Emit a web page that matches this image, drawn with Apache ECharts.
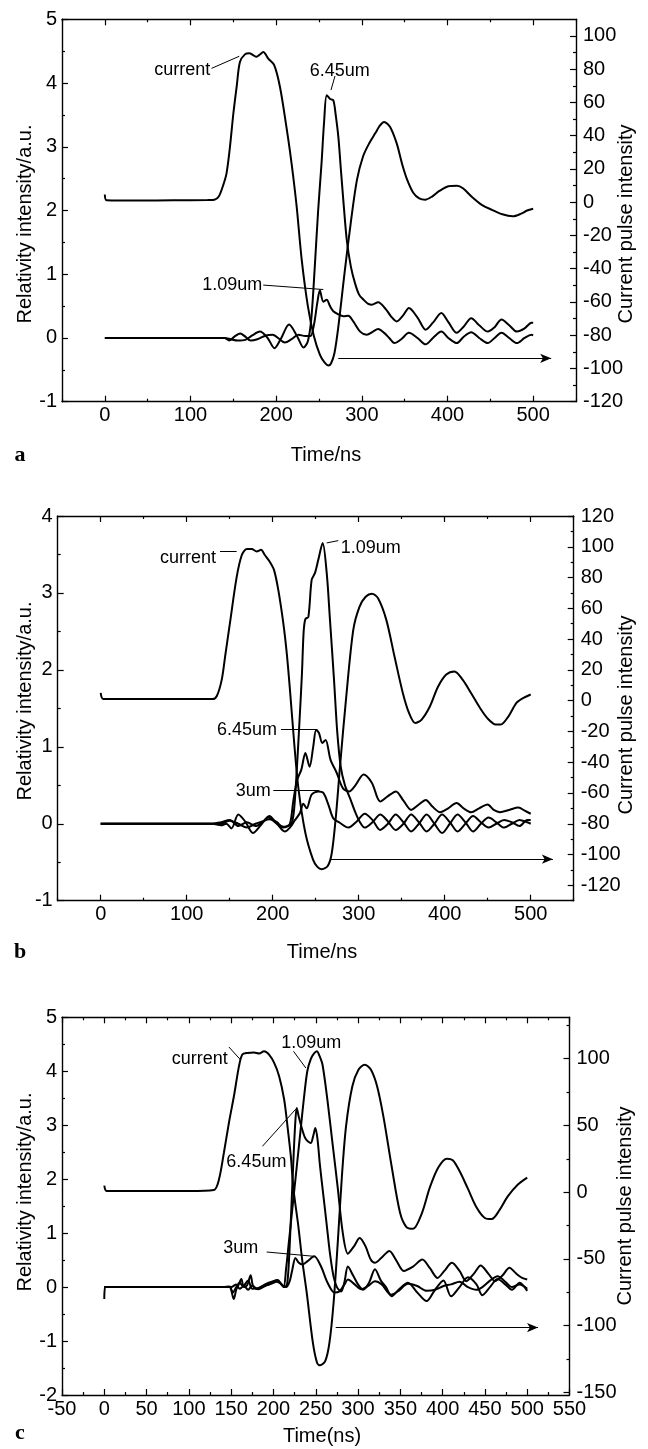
<!DOCTYPE html>
<html><head><meta charset="utf-8">
<script src="https://cdn.jsdelivr.net/npm/echarts@6/dist/echarts.min.js"></script>
<style>html,body{margin:0;padding:0;background:#fff}#c{width:648px;height:1449px}</style>
</head><body><div id="c"></div>
<script>
// ---------------- DATA (time in ns, left axis a.u., right axis current) ----------------
// Panel a
const a_current = [[0,4.6],[2,1.2],[40,1.0],[80,1.2],[120,1.3],[128,1.5],[133,3.4],[138,10],[142,17.2],[146,33],[150,53.2],[154,70],[157.7,84.3],[163.5,88.9],[168.6,89.6],[173,88.5],[177,87.4],[181,88.8],[185,90.4],[191,86.2],[197.7,82.4],[204.4,69.4],[212,45.2],[216,31],[220,15],[224,-3],[229.8,-34.5],[237,-62.5],[244,-80.5],[251,-91.7],[256,-96],[261,-98.2],[264,-97],[268,-90.9],[272.6,-74.8],[279.8,-42.6],[287,-12.7],[294.3,13.4],[301.5,27.6],[308.8,35.6],[316,41.7],[321,46],[326,48.3],[333,45.2],[340.8,35.2],[347,23],[353,13.4],[360,5.7],[367,2.3],[374,1.5],[382,3.4],[391,6.9],[401,9.6],[411,9.9],[418,8.4],[428,3.4],[440,-1.6],[452,-4.6],[464,-7.3],[476,-8.5],[486,-6.9],[493,-5],[500,-3.9]];
const a_645 = [[0,0],[50,0],[100,0],[140,0],[147,-0.02],[155,-0.04],[164,-0.03],[172,0.04],[181,0.1],[190,0.0],[198,-0.16],[206,0.0],[215,0.21],[224,0.04],[232,-0.15],[237,-0.05],[241,0.3],[245,1.1],[249,2.0],[253,2.75],[256,3.4],[259,3.81],[263,3.75],[266.7,3.73],[269.5,3.5],[272.6,3.15],[275.5,2.65],[278.4,2.16],[282.4,1.54],[287.2,1.12],[292,0.86],[296.8,0.68],[302,0.6],[307,0.54],[311.6,0.52],[319,0.56],[328.6,0.44],[334,0.34],[340.7,0.26],[348,0.35],[355,0.47],[365,0.32],[374.5,0.13],[383,0.24],[392.8,0.39],[401,0.25],[410.8,0.08],[419,0.18],[427.7,0.31],[437,0.2],[447,0.1],[455,0.17],[463,0.29],[472,0.2],[481,0.1],[490,0.15],[498,0.24],[500,0.24]];
const a_109 = [[0,0],[50,0],[100,0],[140,0],[145,-0.04],[152,0.03],[158,0.07],[164,0.02],[170,-0.04],[178,-0.02],[188,0.04],[196,0.05],[204,-0.02],[210,-0.07],[218,-0.02],[226,0.05],[234,0.03],[240,0.03],[244,0.2],[248,0.55],[251,0.75],[255,0.57],[259,0.6],[262.8,0.5],[266.7,0.42],[272.6,0.37],[278.4,0.34],[284.2,0.35],[290,0.26],[298,0.1],[305.7,0.05],[313,0.1],[319,0.14],[326,0.08],[332,0.0],[338,-0.08],[346,-0.02],[355,0.08],[365,0.0],[374.5,-0.1],[383,0.0],[392.8,0.1],[401,0.0],[410.8,-0.08],[419,0.02],[427.7,0.09],[437,0.0],[447,-0.08],[455,0.0],[463,0.08],[472,0.0],[481,-0.08],[490,0.0],[498,0.05],[500,0.04]];
// Panel b
const b_current = [[0,5],[3,1],[50,1],[100,1],[130,1],[135,3],[140.7,13.5],[145,30],[150.3,50.5],[158,80],[164,94.5],[169.8,98.5],[175.6,98.5],[181.4,97],[186.4,98],[191,94.5],[196.9,90],[201.5,85],[206.5,72],[212.3,50.5],[216.3,31],[220,7.5],[225,-27.5],[230,-57.5],[238,-86],[247,-103.5],[252,-108],[257,-109.5],[264,-107.5],[268.7,-99],[273.5,-75],[278.3,-42.5],[285.5,2.5],[293.7,46],[300.9,61],[308.1,67.5],[315.4,69.5],[322.5,66.5],[332.1,52.5],[341.7,28.5],[351.3,5],[358.5,-8],[365.7,-14.5],[372.9,-12.5],[382.6,-4],[392.2,9],[401.8,17],[411.4,19],[421,13.5],[430.6,5],[440.2,-4],[449.8,-11.5],[459.4,-15.5],[465.2,-15.5],[473.8,-10.5],[483.4,-1.5],[490.6,1.5],[500,4]];
const b_645 = [[0,0],[50,0],[100,0],[130,0],[140,0.02],[150,0.05],[160,-0.03],[170,0.02],[180,-0.03],[188,0.02],[195,0.08],[205,0.0],[214,-0.04],[220,0.0],[224,0.3],[228.4,0.57],[233.2,0.7],[238,0.92],[242.9,0.74],[247.1,1.0],[250.5,1.22],[253.8,1.18],[257.7,1.05],[261.5,1.09],[267.3,0.83],[274.5,0.66],[281.7,0.46],[288.9,0.42],[296.1,0.5],[305.7,0.64],[315.4,0.53],[325,0.29],[334,0.36],[343.3,0.42],[352,0.3],[361,0.18],[370,0.25],[378,0.31],[386,0.22],[394.6,0.15],[404,0.2],[413.8,0.27],[422,0.2],[430.6,0.15],[440,0.2],[449.8,0.25],[457,0.18],[464.2,0.15],[475,0.18],[485.8,0.21],[493,0.17],[500,0.13]];
const b_109 = [[0,0],[50,0],[100,0],[130,0],[140,0.0],[150,0.04],[160,0.0],[170,-0.05],[180,0.0],[188,0.03],[196,0.06],[205,0.02],[212,-0.05],[218,-0.03],[222,0.0],[225,0.2],[228,0.7],[231,1.3],[234,1.95],[236,2.5],[238,2.66],[241.5,2.69],[245.3,3.17],[249.2,3.26],[253,3.43],[258.1,3.65],[262.8,3.26],[266.6,2.65],[271.3,1.87],[275,1.2],[279,0.75],[284,0.5],[290,0.33],[296,0.15],[301,0.03],[307,-0.05],[316,0.02],[325,0.12],[334,0.03],[343,-0.08],[352,0.0],[361,0.12],[370,0.02],[379,-0.1],[388,0.0],[397,0.12],[406,0.02],[415,-0.1],[424,0.0],[433,0.1],[442,0.02],[451,-0.05],[460,0.0],[469,0.05],[478,0.02],[487,-0.03],[496,0.05],[500,0.05]];
const b_3 = [[0,0],[50,0],[100,0],[130,0],[140,-0.02],[146,0.0],[152,-0.06],[160,0.12],[168,0.03],[177,-0.12],[186,-0.02],[196,0.1],[205,0.0],[214,-0.1],[220,-0.05],[226,0.05],[231.7,0.14],[235.6,0.26],[239.5,0.2],[245.3,0.38],[253,0.42],[258.9,0.4],[264.7,0.25],[270.5,0.07],[278.3,0.01],[288,-0.05],[297.7,0.03],[307,0.13],[316,0.05],[325,-0.08],[334,0.0],[343,0.12],[352,0.02],[361,-0.1],[370,0.0],[379,0.12],[388,0.0],[397,-0.12],[406,0.0],[415,0.12],[424,0.02],[433,-0.1],[442,0.0],[451,0.08],[460,0.02],[469,-0.05],[478,0.0],[487,0.05],[496,0.02],[500,0.0]];
// Panel c
const c_current = [[0,4.9],[3,0.8],[50,0.8],[100,0.8],[129.5,1.6],[135.5,9.3],[141.4,29.5],[147.4,52.2],[153.3,72],[159.2,94.2],[163.2,103.1],[169.2,104.3],[177,104.7],[183,103.9],[188.9,105.5],[194.8,103.1],[200.7,97],[206.7,86.9],[212.6,69.6],[216.6,49.3],[220.5,27.1],[223.7,2],[229.4,-25.5],[234,-50.9],[239.3,-75.2],[246.6,-112.8],[251.5,-127.8],[255,-129.8],[261.3,-126.5],[266.2,-112.8],[271.1,-82.9],[276,-38],[280.9,11.7],[285.8,49.3],[293.2,79.2],[300.5,91.7],[307.9,95.4],[315.3,91.7],[322.6,79.2],[330,56.6],[339.7,19.4],[349.6,-15.3],[357,-26],[365,-27.5],[375,-16.6],[385,3.7],[395,18.6],[405,25.1],[412,23.9],[420,15.8],[430,2.4],[440,-11.3],[450,-19.4],[458,-20.2],[467,-13.7],[477,-3.2],[489,5.7],[500,10.9]];
const c_645 = [[0,0],[50,0],[100,0],[140,0],[148,0.0],[153,-0.22],[156,-0.05],[159,0.05],[162,0.15],[165,0.0],[169,0.04],[173,0.22],[176,0.02],[182,-0.04],[190,0.02],[197,0.06],[204,0.1],[209,0.06],[213,0.0],[216,0.05],[218,0.4],[221,1.4],[224,2.5],[226,3.1],[227.5,3.32],[230,3.15],[234,2.92],[238,2.75],[244,2.67],[247,2.8],[249.5,2.95],[252,2.75],[255,2.25],[259,1.7],[263,1.15],[267,0.6],[271,0.2],[275,0.0],[280,-0.08],[284,0.1],[288,0.38],[294,0.22],[300,0.05],[306,-0.05],[313,0.08],[320,0.33],[327,0.12],[333,0.0],[339.7,-0.17],[348,-0.05],[359,0.08],[370,-0.1],[381,-0.26],[391,-0.05],[401,0.12],[410,-0.17],[420,0.0],[430,0.18],[440,0.05],[447,-0.15],[456,0.0],[465,0.15],[474,0.05],[482,-0.05],[491,0.08],[500,-0.07]];
const c_109 = [[0,0],[50,0],[100,0],[140,0],[150,0.0],[156,0.05],[160,-0.03],[165,0.02],[170,-0.05],[175,0.03],[180,-0.03],[188,0.02],[195,0.05],[200,0.1],[205,0.12],[208,0.08],[212,0.0],[215,0.35],[218,0.8],[221,1.25],[225,1.85],[228,2.3],[232,2.9],[236,3.5],[240,4.0],[244,4.22],[248,4.33],[251.4,4.37],[254,4.3],[258,4.12],[264,3.44],[270,2.64],[276,1.84],[282,1.0],[288,0.62],[295,0.75],[302,0.91],[309,0.75],[315,0.51],[320,0.45],[328,0.55],[337,0.67],[345,0.5],[354,0.3],[365,0.38],[376,0.51],[385,0.35],[394,0.17],[402,0.3],[411,0.45],[420,0.3],[428,0.11],[437,0.25],[445,0.4],[454,0.25],[462,0.11],[471,0.22],[479,0.36],[487,0.25],[494,0.17],[500,0.14]];
const c_3 = [[0,-0.22],[1,0],[50,0],[100,0],[140,0],[148,0.01],[152,-0.1],[156,0.0],[160,0.08],[164,0.02],[170,0.12],[175,-0.03],[182,-0.02],[190,0.05],[198,0.1],[205,0.13],[210,0.04],[215,0.0],[219,0.1],[222,0.3],[226,0.54],[230,0.45],[234.4,0.42],[240.3,0.48],[248.2,0.57],[256,0.39],[264,0.08],[272,-0.1],[278,-0.08],[284,0.05],[288,0.14],[296,0.05],[304,-0.04],[312,0.02],[320,0.11],[328,0.05],[339,-0.14],[348,-0.07],[359,0.06],[370,0.02],[381,-0.07],[391,-0.05],[401,0.02],[410,0.05],[420,0.1],[430,0.0],[440,-0.05],[447,0.0],[456,0.12],[465,0.2],[474,0.1],[482,0.0],[491,0.05],[500,-0.03]];

// Tick values
const ab_xLabels = [0,100,200,300,400,500];
const ab_xMinor = [-50,50,150,250,350,450,550];
const c_xLabels = [-50,0,50,100,150,200,250,300,350,400,450,500,550];
const c_xMinor = [-25,25,75,125,175,225,275,325,375,425,475,525];
const a_yLabels = [-1,0,1,2,3,4,5];
const a_yMinor = [-0.5,0.5,1.5,2.5,3.5,4.5];
const a_rLabels = [-120,-100,-80,-60,-40,-20,0,20,40,60,80,100];
const a_rMinor = [-110,-90,-70,-50,-30,-10,10,30,50,70,90];
const b_yLabels = [-1,0,1,2,3,4];
const b_yMinor = [-0.5,0.5,1.5,2.5,3.5];
const b_rLabels = [-120,-100,-80,-60,-40,-20,0,20,40,60,80,100,120];
const b_rMinor = [-130,-110,-90,-70,-50,-30,-10,10,30,50,70,90,110];
const c_yLabels = [-2,-1,0,1,2,3,4,5];
const c_yMinor = [-1.5,-0.5,0.5,1.5,2.5,3.5,4.5];
const c_rLabels = [-150,-100,-50,0,50,100];
const c_rMinor = [-125,-75,-25,25,75,125];

// ---------------- LAYOUT / STYLE ----------------
const FONT = '"Liberation Sans", Arial, Helvetica, sans-serif';
const panels = [
  { grid:{left:62, top:19.3, width:514, height:382.4},
    x:{min:-50,max:550,labels:ab_xLabels,major:ab_xLabels,minor:ab_xMinor},
    yl:{min:-1,max:5,labels:a_yLabels,minor:a_yMinor},
    yr:{min:-120,max:110,labels:a_rLabels,minor:a_rMinor},
    series:[['current',a_current,'R'],['6.45um',a_645,'L'],['1.09um',a_109,'L']],
    texts:[['current',90.3,4.2],['6.45um',274.2,4.19],['1.09um',148.7,0.83]],
    leaders:[[[124.6,4.23],[156.9,4.42]],[[268.7,4.11],[264,3.89]],[[184.9,0.83],[255,0.76]]],
    arrow:[[272.5,-0.32],[521,-0.32]],
    letter:['a',20,455], xname:['Time/ns',326,455], lname:[25,224], rname:[626,224] },
  { grid:{left:57.7, top:516, width:516, height:384.7},
    x:{min:-50,max:550,labels:ab_xLabels,major:ab_xLabels,minor:ab_xMinor},
    yl:{min:-1,max:4,labels:b_yLabels,minor:b_yMinor},
    yr:{min:-130,max:120,labels:b_rLabels,minor:b_rMinor},
    series:[['current',b_current,'R'],['6.45um',b_645,'L'],['1.09um',b_109,'L'],['3um',b_3,'L']],
    texts:[['current',101.5,3.46],['1.09um',314,3.59],['6.45um',170.2,1.22],['3um',177.4,0.42]],
    leaders:[[[138.7,3.54],[158.1,3.54]],[[262.8,3.65],[276.3,3.68]],[[209.6,1.23],[252,1.23]],[[200.7,0.44],[254.2,0.44]]],
    arrow:[[267.3,-0.46],[525.8,-0.46]],
    letter:['b',20,952], xname:['Time/ns',322,952], lname:[25,701], rname:[626,715] },
  { grid:{left:62, top:1017.3, width:507.5, height:377.7},
    x:{min:-50,max:550,labels:c_xLabels,major:c_xLabels,minor:c_xMinor},
    yl:{min:-2,max:5,labels:c_yLabels,minor:c_yMinor},
    yr:{min:-152,max:131,labels:c_rLabels,minor:c_rMinor},
    series:[['current',c_current,'R'],['6.45um',c_645,'L'],['1.09um',c_109,'L'],['3um',c_3,'L']],
    texts:[['current',112.8,4.23],['1.09um',244.6,4.53],['6.45um',179.8,2.31],['3um',161.2,0.73]],
    leaders:[[[147.3,4.45],[161.2,4.21]],[[223.7,4.37],[238.3,4.06]],[[187,2.61],[226.5,3.3]],[[192,0.65],[248.2,0.57]]],
    arrow:[[273.6,-0.75],[512.8,-0.75]],
    letter:['c',20,1433], xname:['Time(ns)',322,1436], lname:[25,1192], rname:[625,1206] }
];

const LINE = {color:'#000', width:1.4};
const TICK = {color:'#000', width:1.2};
function axisPair(dim, gi, pos, cfg, labels, majorVals, minorVals, showLabel, margin) {
  const base = {gridIndex:gi, type:'value', min:cfg.min, max:cfg.max, position:pos, splitLine:{show:false}, silent:true};
  return [
    Object.assign({}, base, {
      axisLine:{show:true, onZero:false, lineStyle:LINE},
      axisTick:{show:true, inside:true, length:6, customValues:majorVals, lineStyle:TICK},
      axisLabel:{show:showLabel, customValues:labels, margin:margin, color:'#000', fontSize:20, fontFamily:FONT}
    }),
    Object.assign({}, base, {
      axisLine:{show:false, onZero:false},
      axisTick:{show:true, inside:true, length:3, customValues:minorVals, lineStyle:TICK},
      axisLabel:{show:false}
    })
  ];
}

const option = {animation:false, backgroundColor:'#fff', textStyle:{fontFamily:FONT},
  grid:[], xAxis:[], yAxis:[], series:[], graphic:[]};

panels.forEach((p, gi) => {
  option.grid.push(Object.assign({containLabel:false}, p.grid));
  option.xAxis.push(...axisPair('x', gi, 'bottom', p.x, p.x.labels, p.x.major, p.x.minor, true, 4));
  option.xAxis.push(...axisPair('x', gi, 'top', p.x, p.x.labels, p.x.major, p.x.minor, false, 4));
  option.yAxis.push(...axisPair('y', gi, 'left', p.yl, p.yl.labels, p.yl.labels, p.yl.minor, true, 5));
  option.yAxis.push(...axisPair('y', gi, 'right', p.yr, p.yr.labels, p.yr.labels, p.yr.minor, true, 7));
  p.series.forEach((s, si) => {
    const ser = {type:'line', name:s[0], data:s[1], xAxisIndex:4*gi, yAxisIndex: s[2]==='R' ? 4*gi+2 : 4*gi,
      showSymbol:false, symbol:'none', smooth:0.3, lineStyle:{color:'#000', width:2}, z:3, silent:true};
    if (si === 1) {
      ser.markLine = {silent:true, symbol:['none','none'], animation:false,
        lineStyle:{color:'#000', width:1, type:'solid'}, label:{show:false},
        data: p.leaders.map(l => [{coord:l[0]}, {coord:l[1]}]).concat([
          [{coord:p.arrow[0], symbol:'none'}, {coord:p.arrow[1], symbol:'arrow', symbolSize:[7,11]}]
        ])};
      ser.markPoint = {silent:true, symbol:'rect', symbolSize:1, itemStyle:{color:'rgba(0,0,0,0)'},
        label:{show:true, position:'inside', color:'#000', fontSize:18, fontFamily:FONT, formatter:(q)=>q.name},
        data: p.texts.map(t => ({name:t[0], coord:[t[1], t[2]]}))};
    }
    option.series.push(ser);
  });
  option.graphic.push(
    {type:'text', x:p.letter[1], y:p.letter[2], style:{text:p.letter[0], font:'bold 22px "Liberation Serif", "Times New Roman", serif', fill:'#000', align:'center', verticalAlign:'middle'}},
    {type:'text', x:p.xname[1], y:p.xname[2], style:{text:p.xname[0], font:'20px '+FONT, fill:'#000', align:'center', verticalAlign:'middle'}},
    {type:'text', x:p.lname[0], y:p.lname[1], rotation:Math.PI/2, style:{text:'Relativity intensity/a.u.', font:'20px '+FONT, fill:'#000', align:'center', verticalAlign:'middle'}},
    {type:'text', x:p.rname[0], y:p.rname[1], rotation:Math.PI/2, style:{text:'Current pulse intensity', font:'20px '+FONT, fill:'#000', align:'center', verticalAlign:'middle'}}
  );
});

const chart = echarts.init(document.getElementById('c'), null, {renderer:'canvas', width:648, height:1449});
chart.setOption(option);
</script>
</body></html>
